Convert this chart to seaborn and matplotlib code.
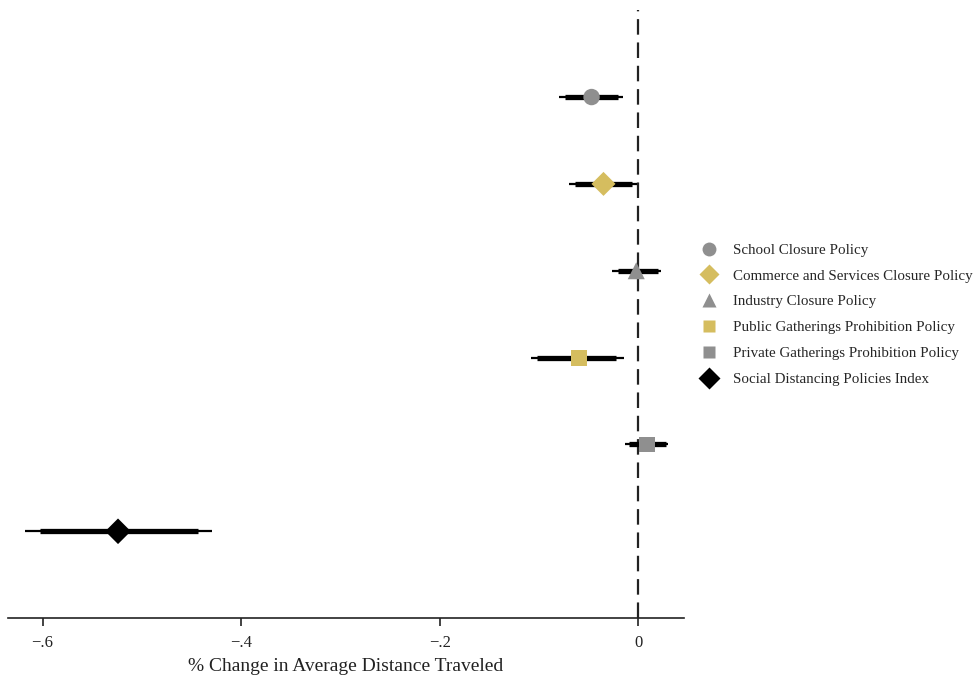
import numpy as np
import pandas as pd
import seaborn as sns
import matplotlib.pyplot as plt
from matplotlib.lines import Line2D


# coefficient estimates with 90% (thick) and 95% (thin) intervals
policies = ['School Closure Policy',
            'Commerce and Services Closure Policy',
            'Industry Closure Policy',
            'Public Gatherings Prohibition Policy',
            'Private Gatherings Prohibition Policy',
            'Social Distancing Policies Index']
coef = [-0.047, -0.035, -0.002, -0.060, 0.009, -0.524]
ci90_lo = [-0.074, -0.064, -0.020, -0.102, -0.009, -0.603]
ci90_hi = [-0.020, -0.006, 0.020, -0.022, 0.028, -0.443]
ci95_lo = [-0.080, -0.070, -0.026, -0.108, -0.013, -0.618]
ci95_hi = [-0.015, -0.001, 0.023, -0.014, 0.030, -0.429]
x_ticks = [-0.6, -0.4, -0.2, 0]
x_ticklabels = ['\u2212.6', '\u2212.4', '\u2212.2', '0']

grey = '#8f8f8f'
gold = '#d5bd5f'
colors = [grey, gold, grey, gold, grey, 'black']
markers = ['o', 'D', '^', 's', 's', 'D']
sizes = [140, 150, 150, 130, 130, 170]

df = pd.DataFrame({'policy': policies, 'coef': coef,
                   'lo90': ci90_lo, 'hi90': ci90_hi,
                   'lo95': ci95_lo, 'hi95': ci95_hi})
df['pos'] = np.arange(len(df), 0, -1)

sns.set_theme(style='white')
plt.rcParams['font.family'] = ['Liberation Serif', 'DejaVu Serif']

fig, ax = plt.subplots(figsize=(9.77, 6.80), dpi=100)
fig.subplots_adjust(left=0.008, right=0.700, bottom=0.091, top=0.985)

ax.axvline(0, color='#222222', lw=1.6, ls=(0, (7, 3.5)), zorder=1)
ax.hlines(df['pos'], df['lo95'], df['hi95'], color='black', lw=1.6, zorder=2)
ax.hlines(df['pos'], df['lo90'], df['hi90'], color='black', lw=3.8, zorder=2)

for i, row in df.iterrows():
    sns.scatterplot(x=[row['coef']], y=[row['pos']], ax=ax,
                    marker=markers[i], color=colors[i], s=sizes[i],
                    edgecolor='none', zorder=3, legend=False)

ax.set_xlim(-0.635, 0.046)
ax.set_ylim(0, 7)
ax.set_yticks([])
ax.set_xticks(x_ticks)
ax.set_xticklabels(x_ticklabels, fontsize=12)
ax.tick_params(axis='x', direction='out', length=6, width=1.2,
               bottom=True, colors='#222222', pad=6)
ax.set_xlabel('% Change in Average Distance Traveled', fontsize=14,
              labelpad=5, color='#222222')
ax.set_ylabel('')
sns.despine(ax=ax, left=True, top=True, right=True)
ax.spines['bottom'].set_color('#222222')
ax.spines['bottom'].set_linewidth(1.2)

handles = [Line2D([], [], ls='none', marker=m, color=c, markersize=ms,
                  markeredgecolor='none')
           for m, c, ms in zip(markers, colors, [10, 10, 10, 9, 9, 11])]
fig.legend(handles, policies, loc='upper left',
           bbox_to_anchor=(0.703, 0.662), frameon=False, fontsize=10.8,
           handletextpad=0.95, labelspacing=0.82, handlelength=1.2)

plt.savefig('out.png', dpi=100)
